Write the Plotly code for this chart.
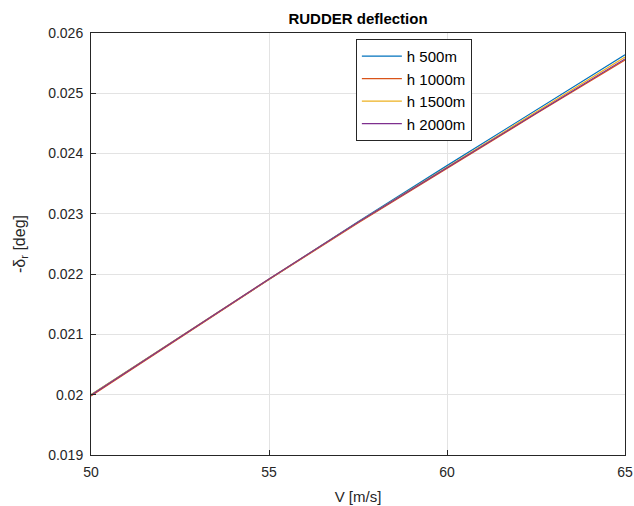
import plotly.graph_objects as go

V = [50, 52.5, 55, 57.5, 60, 62.5, 65]
h500 = [0.02000, 0.02096, 0.02192, 0.02287, 0.02380, 0.02472, 0.02564]
h1000 = [0.01998, 0.02095, 0.02191, 0.02285, 0.02376, 0.02466, 0.02555]
h1500 = [0.02000, 0.02096, 0.02192, 0.02286, 0.02378, 0.02469, 0.02560]
h2000 = [0.01999, 0.02096, 0.02192, 0.02286, 0.02377, 0.02467, 0.02557]

series_names = ["h 500m", "h 1000m", "h 1500m", "h 2000m"]
series_vals = [h500, h1000, h1500, h2000]
colors = ["#0072BD", "#D95319", "#EDB120", "#7E2F8E"]

x_ticks = [50, 55, 60, 65]
y_ticks = [0.019, 0.020, 0.021, 0.022, 0.023, 0.024, 0.025, 0.026]
y_ticktext = ["0.019", "0.02", "0.021", "0.022", "0.023", "0.024", "0.025", "0.026"]

fig = go.Figure()
for name, vals, c in zip(series_names, series_vals, colors):
    fig.add_trace(go.Scatter(x=V, y=vals, mode="lines", name=name,
                             line=dict(color=c, width=1.2)))

font_family = "Liberation Sans, Arial, sans-serif"
axis_common = dict(showgrid=True, gridcolor="#e3e3e3", gridwidth=1,
                   showline=True, linecolor="#262626", linewidth=1, mirror=True,
                   ticks="inside", ticklen=5, tickcolor="#262626", automargin=False,
                   zeroline=False, tickfont=dict(size=14, color="#262626", family=font_family))

fig.update_layout(
    width=634, height=506,
    margin=dict(l=91, r=9, t=33, b=51),
    paper_bgcolor="white", plot_bgcolor="white",
    font=dict(family=font_family, color="#262626"),
    title=dict(text="<b>RUDDER deflection</b>", x=(91 + 625) / 2 / 634, xanchor="center",
               y=1 - 19 / 506, yanchor="middle", yref="container",
               font=dict(size=15, color="black", family=font_family)),
    xaxis=dict(range=[50, 65], tickvals=x_ticks,
               title=dict(text="V [m/s]", font=dict(size=15, family=font_family), standoff=12),
               ticklabelstandoff=4,
               **axis_common),
    yaxis=dict(range=[0.019, 0.026], tickvals=y_ticks, ticktext=y_ticktext,
               title=dict(text="-δ<sub>r</sub> [deg]", font=dict(size=16, family=font_family), standoff=18),
               ticklabelstandoff=4,
               **axis_common),
    legend=dict(x=0.496, y=0.986, xanchor="left", yanchor="top",
                bgcolor="white", bordercolor="#262626", borderwidth=1,
                font=dict(size=15, color="black", family=font_family),
                tracegroupgap=0, itemwidth=40),
    showlegend=True,
)

fig.write_html("out.html", config={"displayModeBar": False})
